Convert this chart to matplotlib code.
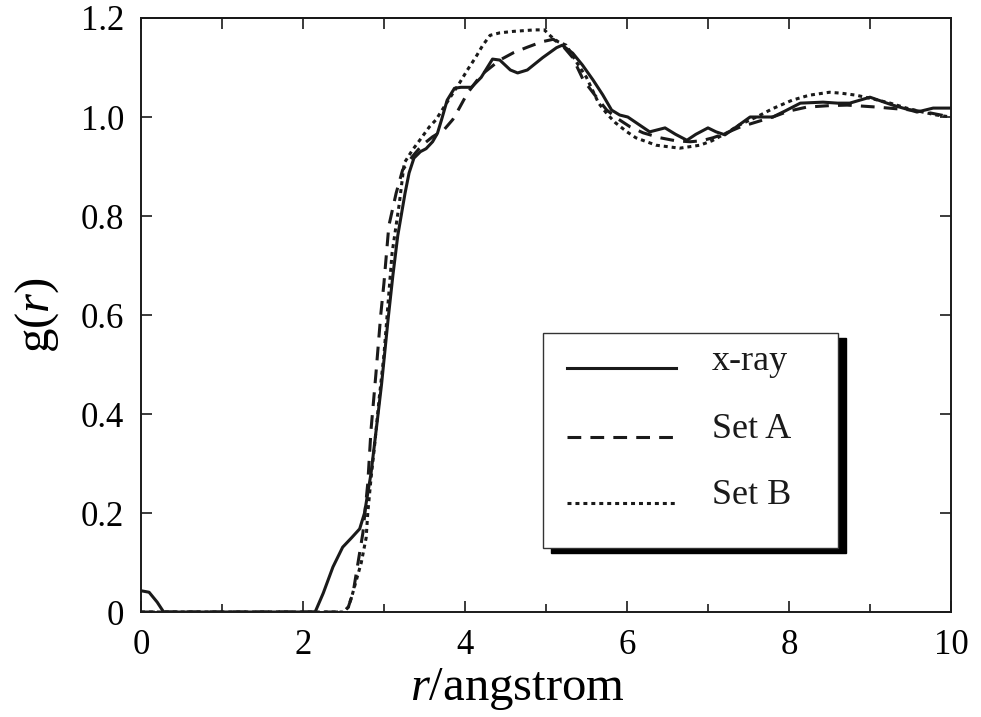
import numpy as np
import matplotlib
matplotlib.use('Agg')
import matplotlib.pyplot as plt
from matplotlib.ticker import MultipleLocator
from matplotlib.patches import Rectangle
from matplotlib.lines import Line2D

plt.rcParams['font.family'] = ['Liberation Serif', 'DejaVu Serif']
plt.rcParams['mathtext.fontset'] = 'custom'
plt.rcParams['mathtext.rm'] = 'Liberation Serif'
plt.rcParams['mathtext.it'] = 'Liberation Serif:italic'

# x-ray (solid)
xray_r = [0, 0.1, 0.2, 0.28, 2.15, 2.25, 2.37, 2.49, 2.6, 2.7, 2.76, 2.84, 2.92, 2.97,
          3.05, 3.11, 3.17, 3.26, 3.31, 3.37, 3.45, 3.52, 3.6, 3.66, 3.71, 3.78, 3.87,
          3.95, 4.08, 4.2, 4.34, 4.43, 4.56, 4.65, 4.77, 4.96, 5.13, 5.2, 5.33, 5.45,
          5.58, 5.7, 5.81, 5.91, 6.01, 6.1, 6.28, 6.47, 6.6, 6.74, 6.85, 7.0, 7.1, 7.21,
          7.35, 7.52, 7.65, 7.8, 7.95, 8.14, 8.42, 8.6, 8.75, 9.0, 9.28, 9.58, 9.78, 10.0]
xray_g = [0.043, 0.04, 0.02, 0.0, 0.0, 0.038, 0.091, 0.131, 0.15, 0.168, 0.2, 0.28, 0.39, 0.46,
          0.59, 0.68, 0.76, 0.846, 0.887, 0.917, 0.93, 0.936, 0.95, 0.967, 0.994, 1.034, 1.058,
          1.06, 1.06, 1.08, 1.117, 1.115, 1.095, 1.089, 1.095, 1.12, 1.14, 1.145, 1.129, 1.105,
          1.075, 1.045, 1.014, 1.004, 1.0, 0.99, 0.97, 0.978, 0.965, 0.953, 0.965, 0.978, 0.97, 0.964,
          0.98, 1.0, 1.0, 1.0, 1.012, 1.028, 1.03, 1.028, 1.028, 1.04, 1.024, 1.01, 1.018, 1.018]

# Set A (dashed)
setA_r = [0, 2.5, 2.56, 2.62, 2.68, 2.74, 2.8, 2.84, 2.9, 2.96, 3.0, 3.06, 3.15, 3.23, 3.35,
          3.47, 3.6, 3.74, 3.85, 3.93, 4.03, 4.2, 4.43, 4.6, 4.77, 4.95, 5.09, 5.2, 5.33, 5.46,
          5.6, 5.75, 5.9, 6.04, 6.2, 6.41, 6.6, 6.78, 6.92, 7.06, 7.2, 7.4, 7.6, 7.8, 8.0, 8.22,
          8.5, 8.72, 9.09, 9.3, 9.53, 9.75, 10.0]
setA_g = [0, 0, 0.01, 0.04, 0.1, 0.16, 0.26, 0.368, 0.48, 0.6, 0.665, 0.78, 0.846, 0.893, 0.92,
          0.943, 0.96, 0.974, 0.995, 1.018, 1.048, 1.085, 1.115, 1.13, 1.141, 1.152, 1.157, 1.145,
          1.12, 1.075, 1.045, 1.014, 0.995, 0.98, 0.968, 0.958, 0.952, 0.95, 0.952, 0.958, 0.966,
          0.98, 0.99, 1.0, 1.012, 1.02, 1.023, 1.024, 1.02, 1.017, 1.014, 1.008, 1.0]

# Set B (dotted)
setB_r = [0, 2.5, 2.56, 2.6, 2.66, 2.72, 2.78, 2.8, 2.84, 2.88, 2.94, 3.0, 3.1, 3.19, 3.25,
          3.35, 3.45, 3.56, 3.64, 3.78, 3.93, 4.03, 4.13, 4.22, 4.31, 4.43, 4.6, 4.86, 4.98,
          5.06, 5.15, 5.25, 5.38, 5.5, 5.65, 5.76, 5.86, 6.0, 6.11, 6.36, 6.65, 6.9, 7.05, 7.23,
          7.4, 7.6, 7.8, 8.04, 8.25, 8.5, 8.65, 8.83, 9.05, 9.25, 9.45, 9.65, 9.82, 10.0]
setB_g = [0, 0, 0.01, 0.03, 0.065, 0.1, 0.15, 0.2, 0.27, 0.33, 0.43, 0.52, 0.725, 0.826, 0.907,
          0.933, 0.955, 0.98, 0.994, 1.03, 1.068, 1.095, 1.12, 1.145, 1.165, 1.17, 1.173, 1.176,
          1.176, 1.163, 1.152, 1.145, 1.11, 1.08, 1.028, 1.005, 0.988, 0.97, 0.958, 0.943, 0.937,
          0.943, 0.952, 0.968, 0.985, 1.0, 1.017, 1.034, 1.044, 1.05, 1.048, 1.044, 1.036, 1.028,
          1.018, 1.01, 1.004, 1.0]

labels = ['x-ray', 'Set A', 'Set B']
styles = ['-', (0, (4.5, 3)), (0, (1.3, 1.3))]

lw = 2.2
ink = '#1a1a1a'
fig = plt.figure(figsize=(9.81, 7.17), dpi=100)
ax = fig.add_axes([0.1437, 0.1464, 0.8257, 0.8285])

for r, g, st in zip([xray_r, setA_r, setB_r], [xray_g, setA_g, setB_g], styles):
    ax.plot(r, g, color=ink, lw=lw, ls=st)

ax.set_xlim(0, 10)
ax.set_ylim(0, 1.2)
ax.xaxis.set_minor_locator(MultipleLocator(1))
ax.set_xticks([0, 2, 4, 6, 8, 10], ['0', '2', '4', '6', '8', '10'])
ax.set_yticks([0, 0.2, 0.4, 0.6, 0.8, 1.0, 1.2], ['0', '0.2', '0.4', '0.6', '0.8', '1.0', '1.2'])
ax.tick_params(which='both', direction='in', top=True, right=True, labelsize=25, color=ink)
ax.tick_params(which='major', length=8, width=1.2, pad=12)
ax.tick_params(which='minor', length=6, width=1.2)
ax.tick_params(axis='x', which='both', top=False)
# top axis carries a tick at every integer
top = ax.secondary_xaxis('top')
top.xaxis.set_major_locator(MultipleLocator(1))
top.tick_params(which='both', direction='in', length=8, width=1.2, labeltop=False, color=ink)
top.spines['top'].set_linewidth(1.4)
for s in ax.spines.values():
    s.set_linewidth(1.4)
    s.set_color(ink)

ax.set_xlabel('$r$/angstrom', fontsize=35, labelpad=3)
ax.xaxis.label.set_x(0.465)
ax.set_ylabel('g($r$)', fontsize=35, labelpad=14)

# legend box with drop shadow
bx, by, bw, bh = 0.496, 0.108, 0.364, 0.362
ax.add_patch(Rectangle((bx + 0.010, by - 0.008), bw, bh, transform=ax.transAxes,
                       facecolor='black', edgecolor='black', zorder=5))
ax.add_patch(Rectangle((bx, by), bw, bh, transform=ax.transAxes,
                       facecolor='white', edgecolor='#333333', lw=1.0, zorder=6))
rows = [0.410, 0.295, 0.184]
for st, lab, yy in zip(styles, labels, rows):
    ax.add_line(Line2D([0.526, 0.661], [yy, yy], transform=ax.transAxes, color=ink,
                       lw=lw, ls=st, zorder=7))
    ax.text(0.705, yy + 0.012, lab, transform=ax.transAxes, fontsize=26,
            va='center', ha='left', zorder=7, color=ink)

fig.savefig('out.png', dpi=100)
